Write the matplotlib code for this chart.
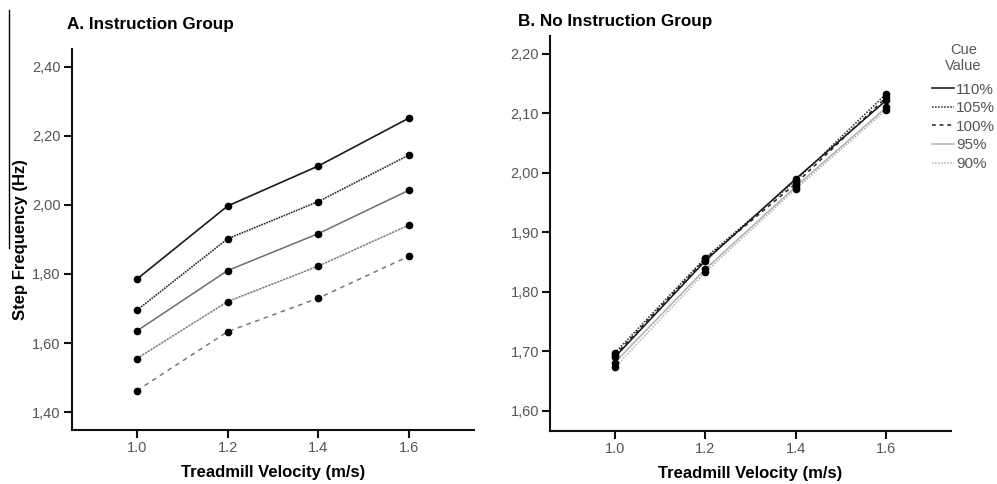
import matplotlib
matplotlib.use('Agg')
from matplotlib import pyplot as plt
from matplotlib.lines import Line2D

plt.rcParams['font.family'] = ['Liberation Sans', 'DejaVu Sans']

velocity = [1.0, 1.2, 1.4, 1.6]
cue_labels = ['110%', '105%', '100%', '95%', '90%']

# panel A (top line to bottom line)
instr_110 = [1.785, 1.997, 2.113, 2.252]
instr_105 = [1.695, 1.902, 2.010, 2.145]
instr_100 = [1.635, 1.810, 1.917, 2.043]
instr_95 = [1.555, 1.720, 1.823, 1.942]
instr_90 = [1.462, 1.633, 1.730, 1.852]

# panel B
noinstr_110 = [1.690, 1.852, 1.990, 2.122]
noinstr_105 = [1.697, 1.857, 1.987, 2.133]
noinstr_100 = [1.693, 1.855, 1.982, 2.127]
noinstr_95 = [1.681, 1.838, 1.977, 2.110]
noinstr_90 = [1.673, 1.833, 1.973, 2.106]

yticks_a = [1.40, 1.60, 1.80, 2.00, 2.20, 2.40]
yticks_b = [1.60, 1.70, 1.80, 1.90, 2.00, 2.10, 2.20]

# styles as they appear in each panel
styles_a = [
    dict(color='#1a1a1a', ls='-', lw=1.2),
    dict(color='#2a2a2a', ls=(0, (1, 0.6)), lw=1.2),
    dict(color='#6e6e6e', ls='-', lw=1.1),
    dict(color='#7a7a7a', ls=(0, (1.5, 0.6)), lw=1.1),
    dict(color='#777777', ls=(0, (3, 3)), lw=1.1),
]
styles_b = [
    dict(color='#111111', ls='-', lw=1.1),
    dict(color='#222222', ls=(0, (1, 1)), lw=1.1),
    dict(color='#222222', ls=(0, (2.5, 2.5)), lw=1.1),
    dict(color='#b0b0b0', ls='-', lw=1.1),
    dict(color='#b0b0b0', ls=(0, (1, 1)), lw=1.1),
]

tick_col = '#555555'


def style_axis(ax, yticks, ylim):
    ax.set_xlim(0.857, 1.743)
    ax.set_ylim(*ylim)
    ax.set_xticks(velocity)
    ax.set_xticklabels(['%.1f' % v for v in velocity])
    ax.set_yticks(yticks)
    ax.set_yticklabels([('%.2f' % v).replace('.', ',') for v in yticks])
    for s in ['top', 'right']:
        ax.spines[s].set_visible(False)
    for s in ['left', 'bottom']:
        ax.spines[s].set_linewidth(1.5)
        ax.spines[s].set_color('#111111')
    ax.tick_params(direction='out', length=6, width=1.5, color='#111111',
                   labelcolor=tick_col, labelsize=10.5, pad=2)
    ax.set_xlabel('Treadmill Velocity (m/s)', fontsize=12, fontweight='bold', labelpad=7)


fig = plt.figure(figsize=(9.97, 4.84), dpi=100)

ax1 = fig.add_axes([0.0722, 0.1116, 0.4032, 0.7872])
for vals, st in zip([instr_110, instr_105, instr_100, instr_95, instr_90], styles_a):
    ax1.plot(velocity, vals, **st)
    ax1.plot(velocity, vals, 'o', color='black', ms=4.5, zorder=5)
style_axis(ax1, yticks_a, (1.348, 2.452))
ax1.set_ylabel('Step Frequency (Hz)', fontsize=12, fontweight='bold', labelpad=3)
ax1.text(-0.012, 1.045, 'A. Instruction Group', transform=ax1.transAxes,
         fontsize=12.3, fontweight='bold', va='bottom', ha='left')

ax2 = fig.add_axes([0.5517, 0.1095, 0.4022, 0.8161])
for vals, st in zip([noinstr_110, noinstr_105, noinstr_100, noinstr_95, noinstr_90], styles_b):
    ax2.plot(velocity, vals, **st)
    ax2.plot(velocity, vals, 'o', color='black', ms=4.5, zorder=5)
style_axis(ax2, yticks_b, (1.566, 2.230))
ax2.text(-0.08, 1.017, 'B. No Instruction Group', transform=ax2.transAxes,
         fontsize=12.3, fontweight='bold', va='bottom', ha='left')

handles = [Line2D([0], [0], **st) for st in styles_b]
leg = fig.legend(handles, cue_labels, title='Cue\nValue', loc='upper left',
                 bbox_to_anchor=(0.935, 0.912), frameon=False, fontsize=11,
                 title_fontsize=10.5, handlelength=1.45, handletextpad=0.1,
                 labelspacing=0.3, borderaxespad=0, borderpad=0)
for t in leg.get_texts():
    t.set_color(tick_col)
leg.get_title().set_color(tick_col)
leg.get_title().set_multialignment('center')
leg._legend_box.sep = 7

# stray crop line at the left edge
fig.add_artist(Line2D([0.0095, 0.0095], [0.488, 0.98], color='black', lw=1.0))

fig.savefig('out.png', dpi=100)
